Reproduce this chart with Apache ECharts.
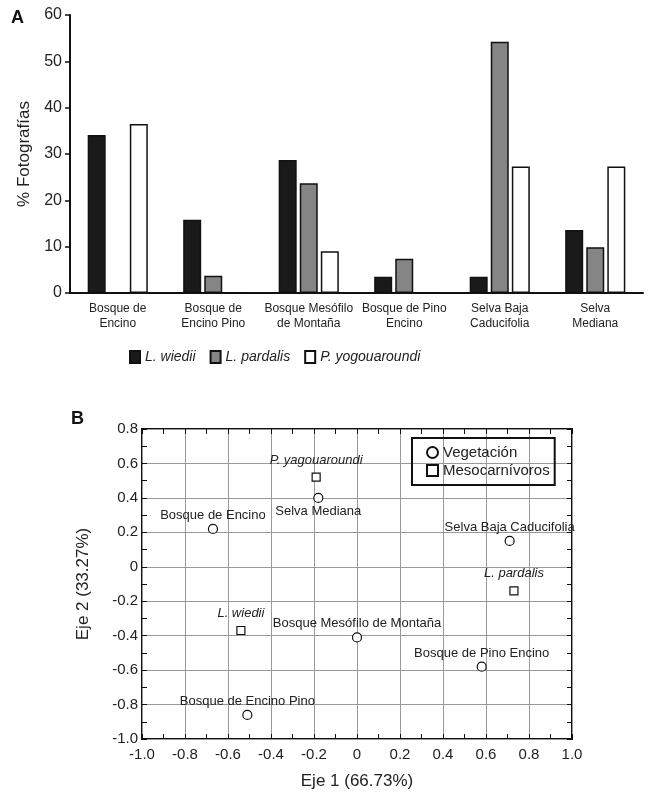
<!DOCTYPE html>
<html><head><meta charset="utf-8">
<script src="https://cdn.jsdelivr.net/npm/echarts@6/dist/echarts.min.js"></script>
<style>html,body{margin:0;padding:0;background:#fff}#c{width:650px;height:793px}</style>
</head><body><div id="c"></div>
<script>
// ---- Panel A data ----
const categories = ['Bosque de\nEncino', 'Bosque de\nEncino Pino', 'Bosque Mesófilo\nde Montaña', 'Bosque de Pino\nEncino', 'Selva Baja\nCaducifolia', 'Selva\nMediana'];
const seriesNamesA = ['L. wiedii', 'L. pardalis', 'P. yogouaroundi'];
const wiedii = [34.1, 15.8, 28.7, 3.5, 3.5, 13.6];
const pardalis = [0, 3.7, 23.7, 7.4, 54.2, 9.9];
const yogouaroundi = [36.5, 0, 9.0, 0, 27.3, 27.3];
const yTicksA = [0, 10, 20, 30, 40, 50, 60];

// ---- Panel B data ----
const vegNames = ['Bosque de Encino', 'Bosque de Encino Pino', 'Bosque Mesófilo de Montaña', 'Bosque de Pino Encino', 'Selva Baja Caducifolia', 'Selva Mediana'];
const vegX = [-0.67, -0.51, 0.0, 0.58, 0.71, -0.18];
const vegY = [0.22, -0.86, -0.41, -0.58, 0.15, 0.40];
const carnNames = ['L. wiedii', 'L. pardalis', 'P. yagouaroundi'];
const carnX = [-0.54, 0.73, -0.19];
const carnY = [-0.37, -0.14, 0.52];
const xTickLabelsB = ['-1.0', '-0.8', '-0.6', '-0.4', '-0.2', '0', '0.2', '0.4', '0.6', '0.8', '1.0'];
const yTickLabelsB = ['-1.0', '-0.8', '-0.6', '-0.4', '-0.2', '0', '0.2', '0.4', '0.6', '0.8'];
const belowLabels = ['Selva Mediana'];

const FONT = '"Liberation Sans Narrow", "Liberation Sans", sans-serif';
const TXT = '#222';

const chart = echarts.init(document.getElementById('c'), null, {renderer: 'canvas'});

function fmtB(list, min) {
  return function (v) { const i = Math.round((v - min) / 0.2); return list[i] !== undefined ? list[i] : ''; };
}

const boxAxis = (pos, min, max) => ({
  type: 'value', gridIndex: 1, position: pos, min: min, max: max, interval: 0.2,
  axisLine: {show: false, onZero: false}, axisLabel: {show: false}, splitLine: {show: false},
  axisTick: {show: true, inside: true, length: 5, lineStyle: {color: '#111', width: 1}},
  minorTick: {show: true, splitNumber: 2, length: 5, lineStyle: {color: '#111', width: 1}}
});

const option = {
  backgroundColor: '#fff',
  animation: false,
  textStyle: {fontFamily: FONT},
  title: [
    {text: 'A', left: 6, top: 4, textStyle: {fontSize: 18, fontWeight: 'bold', color: '#111', fontFamily: 'Liberation Sans'}},
    {text: 'B', left: 66, top: 405, textStyle: {fontSize: 18, fontWeight: 'bold', color: '#111', fontFamily: 'Liberation Sans'}}
  ],
  legend: [
    {
      data: seriesNamesA, left: 124, top: 345, itemWidth: 10, itemHeight: 12, itemGap: 14, icon: 'rect',
      textStyle: {fontSize: 14, fontStyle: 'italic', color: TXT, fontFamily: FONT}
    },
    {
      data: [{name: 'Vegetación', icon: 'circle'}, {name: 'Mesocarnívoros', icon: 'rect'}],
      orient: 'vertical', left: 412, top: 438, padding: [7, 5, 7, 14], itemGap: 3,
      itemWidth: 11, itemHeight: 11, borderColor: '#111', borderWidth: 2,
      textStyle: {fontSize: 15, color: TXT, fontFamily: FONT}
    }
  ],
  grid: [
    {left: 70, right: 7, top: 15, height: 278, containLabel: false},
    {left: 142, width: 430, top: 429, height: 310, show: true, borderColor: '#111', borderWidth: 2, backgroundColor: 'transparent'}
  ],
  xAxis: [
    {
      type: 'category', gridIndex: 0, data: categories,
      axisLine: {lineStyle: {color: '#111', width: 2}}, axisTick: {show: false},
      axisLabel: {interval: 0, fontSize: 12, lineHeight: 15, color: TXT, margin: 8, fontFamily: FONT}
    },
    {
      type: 'value', gridIndex: 1, min: -1, max: 1, interval: 0.2,
      name: 'Eje 1 (66.73%)', nameLocation: 'middle', nameGap: 34,
      nameTextStyle: {fontSize: 17, color: TXT, fontFamily: FONT},
      axisLine: {show: false, onZero: false},
      axisTick: {show: true, inside: true, length: 5, lineStyle: {color: '#111'}},
      minorTick: {show: true, splitNumber: 2, length: 5, lineStyle: {color: '#111'}},
      splitLine: {show: true, lineStyle: {color: '#999', width: 1}},
      axisLabel: {fontSize: 15, color: TXT, margin: 8, formatter: fmtB(xTickLabelsB, -1), fontFamily: FONT}
    },
    boxAxis('top', -1, 1)
  ],
  yAxis: [
    {
      type: 'value', gridIndex: 0, min: 0, max: 60, interval: 10,
      name: '% Fotografías', nameLocation: 'middle', nameGap: 30, nameRotate: 90,
      nameTextStyle: {fontSize: 17, color: TXT, fontFamily: FONT},
      axisLine: {show: true, onZero: false, lineStyle: {color: '#111', width: 2}},
      axisTick: {show: true, length: 5, lineStyle: {color: '#111', width: 1.5}},
      splitLine: {show: false},
      axisLabel: {fontSize: 16, color: TXT, margin: 8, fontFamily: FONT,
        formatter: v => yTicksA.indexOf(v) >= 0 ? String(v) : ''}
    },
    {
      type: 'value', gridIndex: 1, min: -1, max: 0.8, interval: 0.2,
      name: 'Eje 2 (33.27%)', nameLocation: 'middle', nameGap: 50, nameRotate: 90,
      nameTextStyle: {fontSize: 17, color: TXT, fontFamily: FONT},
      axisLine: {show: false, onZero: false},
      axisTick: {show: true, inside: true, length: 5, lineStyle: {color: '#111'}},
      minorTick: {show: true, splitNumber: 2, length: 5, lineStyle: {color: '#111'}},
      splitLine: {show: true, lineStyle: {color: '#999', width: 1}},
      axisLabel: {fontSize: 15, color: TXT, margin: 4, formatter: fmtB(yTickLabelsB, -1), fontFamily: FONT}
    },
    boxAxis('right', -1, 0.8)
  ],
  series: [
    {name: 'L. wiedii', type: 'bar', xAxisIndex: 0, yAxisIndex: 0, data: wiedii, barWidth: 18, barGap: '17%',
      itemStyle: {color: '#1a1a1a', borderColor: '#111', borderWidth: 1.5}},
    {name: 'L. pardalis', type: 'bar', xAxisIndex: 0, yAxisIndex: 0, data: pardalis, barWidth: 18, barGap: '17%',
      itemStyle: {color: '#858585', borderColor: '#111', borderWidth: 1.5}},
    {name: 'P. yogouaroundi', type: 'bar', xAxisIndex: 0, yAxisIndex: 0, data: yogouaroundi, barWidth: 18, barGap: '17%',
      itemStyle: {color: '#ffffff', borderColor: '#111', borderWidth: 1.5}},
    {
      name: 'Vegetación', type: 'scatter', xAxisIndex: 1, yAxisIndex: 1, symbol: 'circle', symbolSize: 9,
      itemStyle: {color: '#fff', borderColor: '#111', borderWidth: 1.2, opacity: 1},
      data: vegNames.map((n, i) => ({
        name: n, value: [vegX[i], vegY[i]],
        label: {position: belowLabels.indexOf(n) >= 0 ? 'bottom' : 'top'}
      })),
      label: {show: true, formatter: p => p.name, fontSize: 13, color: TXT, distance: 2, fontFamily: FONT}
    },
    {
      name: 'Mesocarnívoros', type: 'scatter', xAxisIndex: 1, yAxisIndex: 1, symbol: 'rect', symbolSize: 8,
      itemStyle: {color: '#fff', borderColor: '#111', borderWidth: 1.2, opacity: 1},
      data: carnNames.map((n, i) => ({name: n, value: [carnX[i], carnY[i]]})),
      label: {show: true, position: 'top', formatter: p => p.name, fontSize: 13, fontStyle: 'italic', color: TXT, distance: 6, fontFamily: FONT}
    }
  ]
};
chart.setOption(option);
</script>
</body></html>
